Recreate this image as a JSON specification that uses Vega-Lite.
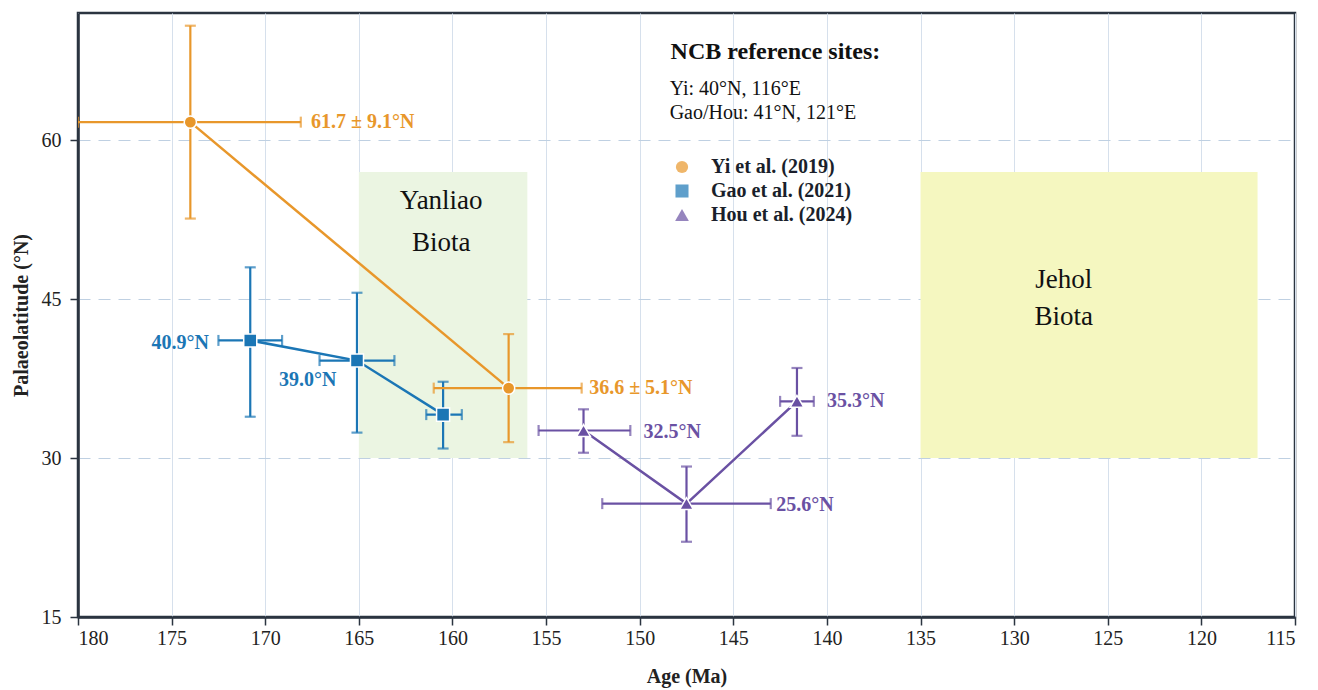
{
  "$schema": "https://vega.github.io/schema/vega-lite/v6.json",
  "width": 1217,
  "height": 604,
  "autosize": {"type": "none"},
  "padding": {"left": 78, "top": 13, "right": 23, "bottom": 73},
  "background": "white",
  "config": {
    "font": "Liberation Serif",
    "view": {"stroke": "#2b3440", "strokeWidth": 2.5},
    "axis": {
      "domainColor": "#2b3440", "domainWidth": 2.5,
      "tickColor": "#2b3440", "tickWidth": 1.5, "tickSize": 8,
      "labelFont": "Liberation Serif", "labelFontSize": 20, "labelColor": "#222222",
      "titleFont": "Liberation Serif", "titleFontSize": 20, "titleFontWeight": "bold", "titleColor": "#222222"
    },
    "text": {"font": "Liberation Serif"}
  },
  "datasets": {
    "points": [
      {"series": "Yi et al. (2019)", "age": 174.0, "ageOld": 180.0, "ageYoung": 168.1, "lat": 61.7, "latLo": 52.6, "latHi": 70.8},
      {"series": "Yi et al. (2019)", "age": 157.0, "ageOld": 161.0, "ageYoung": 153.1, "lat": 36.6, "latLo": 31.5, "latHi": 41.7},
      {"series": "Gao et al. (2021)", "age": 170.8, "ageOld": 172.5, "ageYoung": 169.1, "lat": 41.1, "latLo": 33.9, "latHi": 48.0},
      {"series": "Gao et al. (2021)", "age": 165.1, "ageOld": 167.1, "ageYoung": 163.1, "lat": 39.2, "latLo": 32.4, "latHi": 45.6},
      {"series": "Gao et al. (2021)", "age": 160.5, "ageOld": 161.4, "ageYoung": 159.5, "lat": 34.1, "latLo": 30.9, "latHi": 37.2},
      {"series": "Hou et al. (2024)", "age": 153.0, "ageOld": 155.4, "ageYoung": 150.5, "lat": 32.6, "latLo": 30.5, "latHi": 34.6},
      {"series": "Hou et al. (2024)", "age": 147.5, "ageOld": 152.0, "ageYoung": 143.0, "lat": 25.7, "latLo": 22.1, "latHi": 29.2},
      {"series": "Hou et al. (2024)", "age": 141.6, "ageOld": 142.5, "ageYoung": 140.7, "lat": 35.35, "latLo": 32.1, "latHi": 38.5}
    ],
    "labelsRight": [
      {"series": "Yi et al. (2019)", "text": "61.7 ± 9.1°N", "age": 167.55, "lat": 61.7},
      {"series": "Yi et al. (2019)", "text": "36.6 ± 5.1°N", "age": 152.7, "lat": 36.6},
      {"series": "Hou et al. (2024)", "text": "32.5°N", "age": 149.8, "lat": 32.5},
      {"series": "Hou et al. (2024)", "text": "25.6°N", "age": 142.7, "lat": 25.6},
      {"series": "Hou et al. (2024)", "text": "35.3°N", "age": 140.0, "lat": 35.35}
    ],
    "labelsLeft": [
      {"series": "Gao et al. (2021)", "text": "40.9°N", "age": 173.0, "lat": 40.9},
      {"series": "Gao et al. (2021)", "text": "39.0°N", "age": 166.2, "lat": 37.4}
    ],
    "biota": [
      {"biota": "Yanliao", "ageOld": 165, "ageYoung": 156, "latLo": 30, "latHi": 57},
      {"biota": "Jehol", "ageOld": 135, "ageYoung": 117, "latLo": 30, "latHi": 57}
    ],
    "biotaText": [
      {"text": "Yanliao", "age": 160.6, "lat": 54.25},
      {"text": "Biota", "age": 160.6, "lat": 50.3},
      {"text": "Jehol", "age": 127.35, "lat": 46.85},
      {"text": "Biota", "age": 127.35, "lat": 43.35}
    ],
    "noteTitle": [
      {"text": "NCB reference sites:", "age": 148.35, "lat": 68.35}
    ],
    "noteLines": [
      {"text": "Yi: 40°N, 116°E", "age": 148.4, "lat": 64.85},
      {"text": "Gao/Hou: 41°N, 121°E", "age": 148.4, "lat": 62.6}
    ]
  },
  "layer": [
    {
      "data": {"name": "biota"},
      "mark": {"type": "rect"},
      "encoding": {
        "x": {"field": "ageOld", "type": "quantitative", "title": "Age (Ma)",
          "scale": {"domain": [180, 115], "nice": false, "zero": false},
          "axis": {"values": [180,175,170,165,160,155,150,145,140,135,130,125,120,115],
            "labelFont": "Liberation Serif", "titleFont": "Liberation Serif",
            "grid": true, "gridColor": "#d6e0ec", "gridWidth": 1, "labelPadding": 3, "titlePadding": 18}},
        "x2": {"field": "ageYoung", "title": "Age (Ma)"},
        "y": {"field": "latLo", "type": "quantitative", "title": "Palaeolatitude (°N)",
          "scale": {"domain": [15, 72], "nice": false, "zero": false},
          "axis": {"values": [15, 30, 45, 60],
            "labelFont": "Liberation Serif", "titleFont": "Liberation Serif",
            "grid": true, "gridColor": "#bfd0e2", "gridWidth": 1.2, "gridDash": [12, 8], "labelPadding": 9, "titlePadding": 10}},
        "y2": {"field": "latHi", "title": "Palaeolatitude (°N)"},
        "fill": {"field": "biota", "type": "nominal",
          "scale": {"domain": ["Yanliao", "Jehol"], "range": ["#ebf5e2", "#f5f7c0"]}, "legend": null}
      }
    },
    {
      "data": {"name": "biotaText"},
      "mark": {"type": "text", "font": "Liberation Serif", "fontSize": 27, "align": "center", "baseline": "middle", "color": "#111111"},
      "encoding": {
        "x": {"field": "age", "type": "quantitative", "title": "Age (Ma)"},
        "y": {"field": "lat", "type": "quantitative", "title": "Palaeolatitude (°N)"},
        "text": {"field": "text"}
      }
    },
    {
      "data": {"name": "noteTitle"},
      "mark": {"type": "text", "font": "Liberation Serif", "fontSize": 24, "fontWeight": "bold", "align": "left", "baseline": "middle", "color": "#111111"},
      "encoding": {
        "x": {"field": "age", "type": "quantitative", "title": "Age (Ma)"},
        "y": {"field": "lat", "type": "quantitative", "title": "Palaeolatitude (°N)"},
        "text": {"field": "text"}
      }
    },
    {
      "data": {"name": "noteLines"},
      "mark": {"type": "text", "font": "Liberation Serif", "fontSize": 20, "align": "left", "baseline": "middle", "color": "#111111"},
      "encoding": {
        "x": {"field": "age", "type": "quantitative", "title": "Age (Ma)"},
        "y": {"field": "lat", "type": "quantitative", "title": "Palaeolatitude (°N)"},
        "text": {"field": "text"}
      }
    },
    {
      "data": {"name": "points"},
      "mark": {"type": "line", "strokeWidth": 2.5},
      "encoding": {
        "x": {"field": "age", "type": "quantitative", "title": "Age (Ma)"},
        "y": {"field": "lat", "type": "quantitative", "title": "Palaeolatitude (°N)"},
        "color": {"field": "series", "type": "nominal",
          "scale": {"domain": ["Yi et al. (2019)", "Gao et al. (2021)", "Hou et al. (2024)"], "range": ["#e8972b", "#1b76b5", "#6a51a3"]}}
      }
    },
    {
      "data": {"name": "points"},
      "mark": {"type": "errorbar", "ticks": {"size": 11}, "thickness": 2.2, "clip": true},
      "encoding": {
        "x": {"field": "age", "type": "quantitative", "title": "Age (Ma)"},
        "y": {"field": "latLo", "type": "quantitative", "title": "Palaeolatitude (°N)"},
        "y2": {"field": "latHi", "title": "Palaeolatitude (°N)"},
        "color": {"field": "series", "type": "nominal"}
      }
    },
    {
      "data": {"name": "points"},
      "mark": {"type": "errorbar", "ticks": {"size": 11}, "thickness": 2.2, "clip": true},
      "encoding": {
        "y": {"field": "lat", "type": "quantitative", "title": "Palaeolatitude (°N)"},
        "x": {"field": "ageOld", "type": "quantitative", "title": "Age (Ma)"},
        "x2": {"field": "ageYoung", "title": "Age (Ma)"},
        "color": {"field": "series", "type": "nominal"}
      }
    },
    {
      "data": {"name": "points"},
      "mark": {"type": "point", "filled": true, "opacity": 1, "stroke": "white", "strokeWidth": 1.5},
      "encoding": {
        "x": {"field": "age", "type": "quantitative", "title": "Age (Ma)"},
        "y": {"field": "lat", "type": "quantitative", "title": "Palaeolatitude (°N)"},
        "shape": {"field": "series", "type": "nominal",
          "scale": {"domain": ["Yi et al. (2019)", "Gao et al. (2021)", "Hou et al. (2024)"], "range": ["circle", "square", "triangle-up"]},
          "legend": null},
        "size": {"field": "series", "type": "nominal",
          "scale": {"domain": ["Yi et al. (2019)", "Gao et al. (2021)", "Hou et al. (2024)"], "range": [150, 190, 150]},
          "legend": null},
        "color": {"field": "series", "type": "nominal",
          "legend": {
            "title": null, "orient": "none", "legendX": 594, "legendY": 144, "padding": 0,
            "labelFont": "Liberation Serif", "labelFontSize": 20, "labelFontWeight": "bold", "labelColor": "#1a1f2b",
            "symbolStrokeWidth": 0, "symbolOpacity": 1, "labelOffset": 19, "rowPadding": 4
          }}
      }
    },
    {
      "data": {"name": "labelsRight"},
      "mark": {"type": "text", "font": "Liberation Serif", "fontSize": 20, "fontWeight": "bold", "align": "left", "baseline": "middle"},
      "encoding": {
        "x": {"field": "age", "type": "quantitative", "title": "Age (Ma)"},
        "y": {"field": "lat", "type": "quantitative", "title": "Palaeolatitude (°N)"},
        "text": {"field": "text"},
        "color": {"field": "series", "type": "nominal"}
      }
    },
    {
      "data": {"name": "labelsLeft"},
      "mark": {"type": "text", "font": "Liberation Serif", "fontSize": 20, "fontWeight": "bold", "align": "right", "baseline": "middle"},
      "encoding": {
        "x": {"field": "age", "type": "quantitative", "title": "Age (Ma)"},
        "y": {"field": "lat", "type": "quantitative", "title": "Palaeolatitude (°N)"},
        "text": {"field": "text"},
        "color": {"field": "series", "type": "nominal"}
      }
    }
  ]
}
